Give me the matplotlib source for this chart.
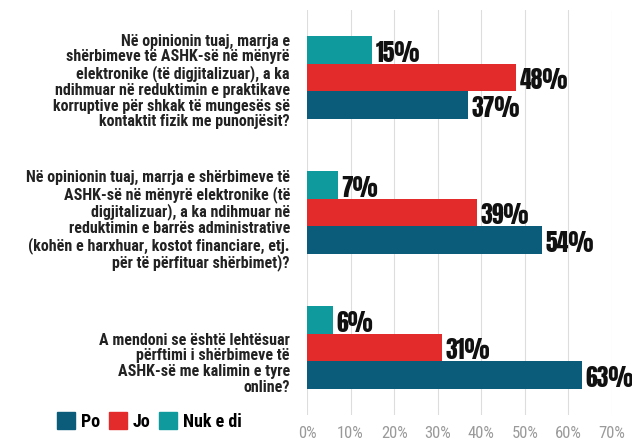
import numpy as np
import matplotlib.pyplot as plt
from matplotlib.patches import Patch

questions = [
    "Në opinionin tuaj, marrja e\nshërbimeve të ASHK-së në mënyrë\nelektronike (të digjitalizuar), a ka\nndihmuar në reduktimin e praktikave\nkorruptive për shkak të mungesës së\nkontaktit fizik me punonjësit?",
    "Në opinionin tuaj, marrja e shërbimeve të\nASHK-së në mënyrë elektronike (të\ndigjitalizuar), a ka ndihmuar në\nreduktimin e barrës administrative\n(kohën e harxhuar, kostot financiare, etj.\npër të përfituar shërbimet)?",
    "A mendoni se është lehtësuar\npërftimi i shërbimeve të\nASHK-së me kalimin e tyre\nonline?",
]
po = [37, 54, 63]
jo = [48, 39, 31]
nuk = [15, 7, 6]
series_names = ["Po", "Jo", "Nuk e di"]
ticks = [0, 10, 20, 30, 40, 50, 60, 70]

c_po = "#0b5b7a"
c_jo = "#e32b2b"
c_nuk = "#0f9a9e"

cond = ["Roboto Condensed", "DejaVu Sans"]
heavy = ["Anton", "Oswald", "DejaVu Sans"]

fig = plt.figure(figsize=(6.32, 4.43), dpi=100)
ax = fig.add_axes([307 / 632, 28 / 443, 305 / 632, 405 / 443])

centers = np.array([0.5, 1.5, 2.5])
h = 0.204
ax.barh(centers - h, nuk, height=h, color=c_nuk, zorder=3)
ax.barh(centers, jo, height=h, color=c_jo, zorder=3)
ax.barh(centers + h, po, height=h, color=c_po, zorder=3)

for vals, off in [(nuk, -h), (jo, 0), (po, h)]:
    for c, v in zip(centers, vals):
        ax.annotate(f"{v}%", (v, c + off), xytext=(2.5, -2), textcoords="offset points",
                    ha="left", va="center", fontsize=17, family=heavy, color="#111111",
                    annotation_clip=False)

ax.set_xlim(0, 70)
ax.set_ylim(3, 0)
ax.set_xticks(ticks)
ax.set_xticklabels([f"{t}%" for t in ticks], fontsize=12, color="#9a9a9a", family=cond)
ax.set_yticks([])
ax.tick_params(axis="x", length=0, pad=8)
ax.grid(axis="x", color="#dddddd", lw=0.8, zorder=0)
for s in ax.spines.values():
    s.set_visible(False)

text_y = [0.53, 1.56, 2.62]
for q, y in zip(questions, text_y):
    ax.text(-17 / 4.357, y, q, ha="right", va="center", fontsize=11.5, fontweight="bold",
            family=cond, color="#222222", linespacing=1.06)

handles = [Patch(color=c) for c in (c_po, c_jo, c_nuk)]
fig.legend(handles, series_names, loc="lower left", bbox_to_anchor=(41 / 632, -4 / 443),
           ncol=3, frameon=False, handlelength=1.0, handleheight=1.1, handletextpad=0.3,
           columnspacing=0.5, prop={"family": cond, "weight": "bold", "size": 13})

fig.savefig("out.png", dpi=100)
